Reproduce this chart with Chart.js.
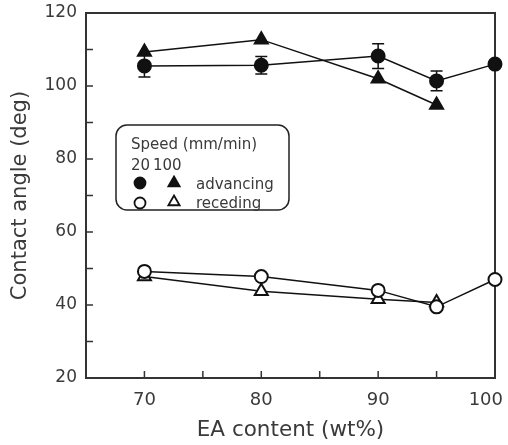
<!DOCTYPE html>
<html>
<head>
<meta charset="utf-8">
<script src="https://cdn.jsdelivr.net/npm/chart.js@4.4.1/dist/chart.umd.min.js"></script>
<style>
  html, body { margin: 0; padding: 0; background: #fff; }
  #wrap { width: 508px; height: 445px; }
</style>
</head>
<body>
<div id="wrap"><canvas id="angleChart" width="508" height="445"></canvas></div>
<script>
// EA content (wt%) and measured contact angles (deg)
const eaContent = [70, 80, 90, 95, 100];
const adv20 = [105.5, 105.7, 108.2, 101.4, 106];
const adv20Err = [3, 2.4, 3.4, 2.7, 0];
const adv100 = [109.3, 112.7, 102, 94.8, null];
const rec20 = [49.2, 47.8, 44, 39.5, 47];
const rec100 = [47.8, 43.8, 41.6, 40.7, null];
const xTickLabels = [70, 80, 90, 100];
const yTickLabels = [20, 40, 60, 80, 100, 120];

const ink = "#111";
const textColor = "#3a3a3a";
const fontFamily = "'DejaVu Sans', sans-serif";

function toPoints(values) {
  return eaContent
    .map((x, i) => ({ x: x, y: values[i] }))
    .filter((p) => p.y !== null);
}

// Error bars for the 20 mm/min advancing series
const errorBars = {
  id: "errorBars",
  beforeDatasetsDraw(chart) {
    const { ctx, scales } = chart;
    ctx.save();
    ctx.strokeStyle = ink;
    ctx.lineWidth = 1.5;
    eaContent.forEach((x, i) => {
      const err = adv20Err[i];
      if (!err) return;
      const px = scales.x.getPixelForValue(x);
      const top = scales.y.getPixelForValue(adv20[i] + err);
      const bottom = scales.y.getPixelForValue(adv20[i] - err);
      ctx.beginPath();
      ctx.moveTo(px, top);
      ctx.lineTo(px, bottom);
      ctx.moveTo(px - 6, top);
      ctx.lineTo(px + 6, top);
      ctx.moveTo(px - 6, bottom);
      ctx.lineTo(px + 6, bottom);
      ctx.stroke();
    });
    ctx.restore();
  },
};

// Tick marks pointing into the plot, the frame and the x tick labels
const frameTicks = {
  id: "frameTicks",
  beforeDatasetsDraw(chart) {
    const { ctx, chartArea, scales } = chart;
    ctx.save();
    ctx.strokeStyle = "#333";
    ctx.lineWidth = 1.5;
    ctx.beginPath();
    scales.x.ticks.forEach((t) => {
      const px = scales.x.getPixelForValue(t.value);
      ctx.moveTo(px, chartArea.bottom);
      ctx.lineTo(px, chartArea.bottom - 7);
    });
    scales.y.ticks.forEach((t) => {
      const py = scales.y.getPixelForValue(t.value);
      ctx.moveTo(chartArea.left, py);
      ctx.lineTo(chartArea.left + 7, py);
    });
    ctx.stroke();
    ctx.lineWidth = 2;
    ctx.strokeRect(
      chartArea.left,
      chartArea.top,
      chartArea.right - chartArea.left,
      chartArea.bottom - chartArea.top
    );

    // x labels, the last one kept inside the canvas
    ctx.fillStyle = textColor;
    ctx.font = "18px " + fontFamily;
    ctx.textBaseline = "middle";
    xTickLabels.forEach((v) => {
      const px = scales.x.getPixelForValue(v);
      const text = String(v);
      const w = ctx.measureText(text).width;
      const limit = chart.width - 5;
      if (px + w / 2 > limit) {
        ctx.textAlign = "right";
        ctx.fillText(text, limit, chartArea.bottom + 22);
      } else {
        ctx.textAlign = "center";
        ctx.fillText(text, px, chartArea.bottom + 22);
      }
    });
    ctx.restore();
  },
};

// Legend box inside the plot
const speedLegend = {
  id: "speedLegend",
  afterDraw(chart) {
    const { ctx } = chart;
    const draw = Chart.helpers.drawPoint;
    ctx.save();
    ctx.strokeStyle = "#222";
    ctx.lineWidth = 1.5;
    ctx.beginPath();
    ctx.roundRect(116, 125, 173, 85, 11);
    ctx.fillStyle = "#fff";
    ctx.fill();
    ctx.stroke();

    ctx.fillStyle = textColor;
    ctx.font = "15px " + fontFamily;
    ctx.textBaseline = "alphabetic";
    ctx.fillText("Speed (mm/min)", 131, 149);
    ctx.fillText("20", 131, 170);
    ctx.fillText("100", 153, 170);
    ctx.fillText("advancing", 196, 189);
    ctx.fillText("receding", 196, 208);

    const mk = (style, r, fill, x, y) => {
      ctx.fillStyle = fill;
      ctx.strokeStyle = ink;
      ctx.lineWidth = 1.8;
      draw(ctx, { pointStyle: style, radius: r, rotation: 0, borderWidth: 1.8 }, x, y);
    };
    mk("circle", 5.5, ink, 140, 183);
    mk("triangle", 6.5, ink, 174, 183);
    mk("circle", 5.5, "#fff", 140, 203);
    mk("triangle", 6.5, "#fff", 174, 202);
    ctx.restore();
  },
};

function series(label, values, style, filled) {
  return {
    label: label,
    data: toPoints(values),
    borderColor: ink,
    borderWidth: 1.5,
    pointStyle: style,
    pointRadius: style === "triangle" ? 7.5 : 6.5,
    pointBorderWidth: 2,
    pointBorderColor: ink,
    pointBackgroundColor: filled ? ink : "#fff",
    fill: false,
    tension: 0,
    clip: false,
  };
}

const ctx = document.getElementById("angleChart").getContext("2d");
new Chart(ctx, {
  type: "line",
  data: {
    datasets: [
      series("20 advancing", adv20, "circle", true),
      series("100 advancing", adv100, "triangle", true),
      series("20 receding", rec20, "circle", false),
      series("100 receding", rec100, "triangle", false),
    ],
  },
  options: {
    responsive: false,
    animation: false,
    devicePixelRatio: 1,
    layout: { padding: { top: 13, right: 13, left: 0, bottom: 0 } },
    plugins: {
      legend: { display: false },
      tooltip: { enabled: false },
    },
    scales: {
      x: {
        type: "linear",
        min: 65,
        max: 100,
        grid: { display: false, drawTicks: false },
        border: { display: false },
        ticks: { stepSize: 5, display: false },
        title: {
          display: true,
          text: "EA content (wt%)",
          color: textColor,
          font: { family: fontFamily, size: 21.5 },
          padding: { top: 2, bottom: 2 },
        },
        afterFit: (scale) => {
          scale.height = 67;
          scale.paddingLeft = 0;
          scale.paddingRight = 0;
        },
      },
      y: {
        min: 20,
        max: 120,
        grid: { display: false, drawTicks: false },
        border: { display: false },
        ticks: {
          stepSize: 10,
          padding: 9,
          color: textColor,
          font: { family: fontFamily, size: 17 },
          callback: (v) => (yTickLabels.includes(v) ? String(v) : ""),
        },
        title: {
          display: true,
          text: "Contact angle (deg)",
          color: textColor,
          font: { family: fontFamily, size: 21 },
          padding: { top: 8, bottom: 0 },
        },
        afterFit: (scale) => {
          scale.width = 86;
          scale.paddingTop = 0;
          scale.paddingBottom = 0;
        },
      },
    },
  },
  plugins: [frameTicks, errorBars, speedLegend],
});
</script>
</body>
</html>
